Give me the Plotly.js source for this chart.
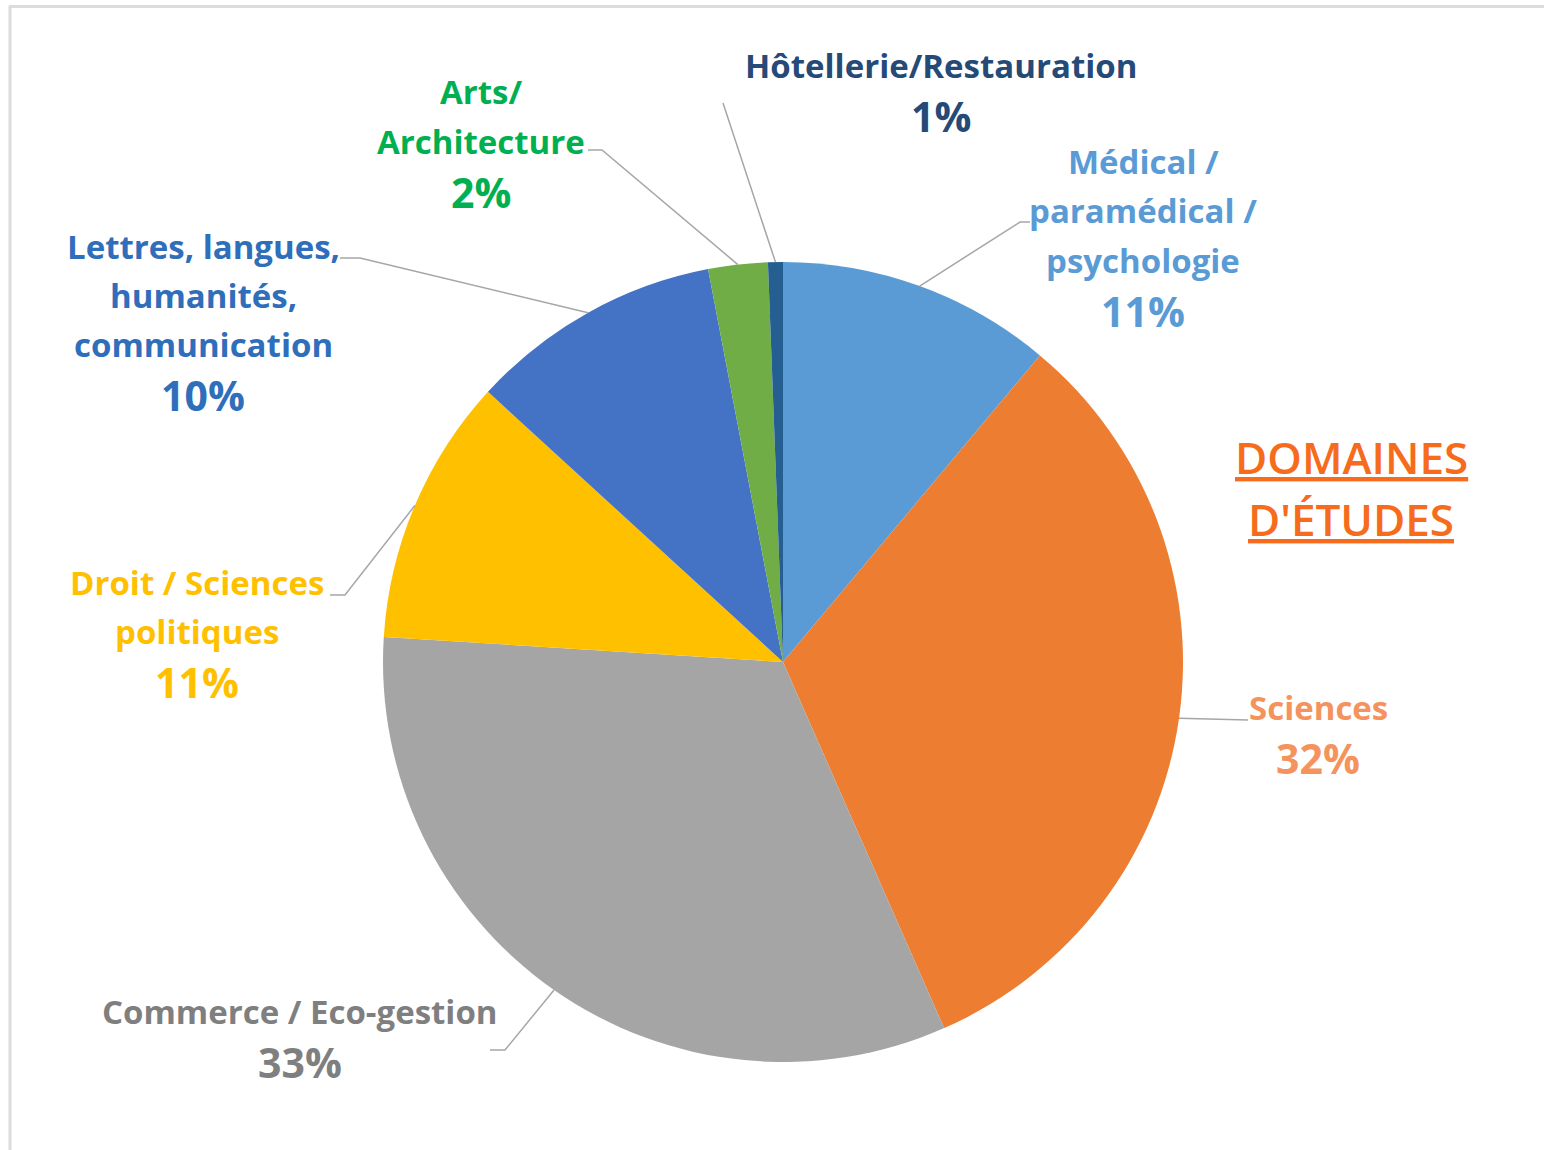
<!DOCTYPE html>
<html>
<head>
<meta charset="utf-8">
<script src="https://cdn.plot.ly/plotly-3.0.1.min.js"></script>
<style>html,body{margin:0;padding:0;background:#fff;}#chart{width:1544px;height:1150px;}</style>
</head>
<body>
<div id="chart"></div>
<script>
// ---- Data ----
const categories = ['Médical / paramédical / psychologie', 'Sciences', 'Commerce / Eco-gestion', 'Droit / Sciences politiques', 'Lettres, langues, humanités, communication', 'Arts/ Architecture', 'Hôtellerie/Restauration'];
const values = [11.1, 32.3, 32.6, 10.8, 10.2, 2.4, 0.6];
const labelLines = [['Médical /', 'paramédical /', 'psychologie'], ['Sciences'], ['Commerce / Eco-gestion'], ['Droit / Sciences', 'politiques'], ['Lettres, langues,', 'humanités,', 'communication'], ['Arts/', 'Architecture'], ['Hôtellerie/Restauration']];
const chartTitleLines = ['DOMAINES', "D'ÉTUDES"];

// ---- Styles / layout positions ----
const sliceColors = ['#5B9BD5', '#ED7D31', '#A5A5A5', '#FFC000', '#4472C4', '#70AD47', '#255E91'];
const textColors = ['#5B9BD5', '#F4935E', '#7F7F7F', '#FFC000', '#2F6EBA', '#00B050', '#264A78'];
const W = 1544, H = 1150;
const CX = 783, CY = 662, R = 400;
const labelPos = [[1143, 162], [1318, 707], [300, 1011], [197, 582], [203, 246], [481, 92], [941, 65]];
const leaderPts = [[[1020, 222], [1030, 222]], [[1248, 720]], [[505, 1050], [490, 1050]], [[345, 595], [330, 595]], [[360, 258], [340, 258]], [[602, 150], [588, 150]], [[723, 103]]];
const LINE_GAP = 49, PCT_GAP = 51;
const FONT = '"Open Sans", Lato, sans-serif';

const px = x => x / W;
const py = y => 1 - y / H;

const total = values.reduce((a, b) => a + b, 0);
const annotations = [];
const shapes = [];

let cum = 0;
values.forEach((v, i) => {
  const a = 2 * Math.PI * (cum + v / 2) / total;
  cum += v;
  const ax = CX + R * Math.sin(a), ay = CY - R * Math.cos(a);
  let path = 'M ' + px(ax) + ' ' + py(ay);
  leaderPts[i].forEach(p => { path += ' L ' + px(p[0]) + ' ' + py(p[1]); });
  shapes.push({type: 'path', xref: 'paper', yref: 'paper', path: path, line: {color: '#A6A6A6', width: 1.5}});
  const [lx, ly] = labelPos[i];
  labelLines[i].forEach((t, k) => {
    annotations.push({xref: 'paper', yref: 'paper', x: px(lx), y: py(ly + k * LINE_GAP), xanchor: 'center', yanchor: 'middle', showarrow: false,
      text: '<b>' + t + '</b>', font: {family: FONT, size: 33, color: textColors[i]}});
  });
  const pct = Math.round(v / total * 100) + '%';
  annotations.push({xref: 'paper', yref: 'paper', x: px(lx), y: py(ly + (labelLines[i].length - 1) * LINE_GAP + PCT_GAP), xanchor: 'center', yanchor: 'middle', showarrow: false,
    text: '<b>' + pct + '</b>', font: {family: FONT, size: 41, color: textColors[i]}});
});

chartTitleLines.forEach((t, k) => {
  annotations.push({xref: 'paper', yref: 'paper', x: px(1351), y: py(457 + k * 62), xanchor: 'center', yanchor: 'middle', showarrow: false,
    text: '<u>' + t + '</u>', font: {family: FONT, size: 44, weight: 600, color: '#F76B1C'}});
});

// frame lines (screenshot border)
shapes.push({type: 'line', xref: 'paper', yref: 'paper', x0: px(9), x1: 1, y0: py(6.5), y1: py(6.5), line: {color: '#DCDCDC', width: 3}});
shapes.push({type: 'line', xref: 'paper', yref: 'paper', x0: px(10), x1: px(10), y0: py(6), y1: 0, line: {color: '#DCDCDC', width: 3}});

const trace = {
  type: 'pie',
  labels: categories,
  values: values,
  sort: false,
  direction: 'clockwise',
  rotation: 0,
  textinfo: 'none',
  hoverinfo: 'label+percent',
  marker: {colors: sliceColors, line: {width: 0}},
  domain: {x: [(CX - R) / W, (CX + R) / W], y: [1 - (CY + R) / H, 1 - (CY - R) / H]},
  showlegend: false
};

const layout = {
  width: W, height: H,
  margin: {l: 0, r: 0, t: 0, b: 0},
  paper_bgcolor: '#ffffff',
  showlegend: false,
  annotations: annotations,
  shapes: shapes
};

Plotly.newPlot('chart', [trace], layout, {displayModeBar: false, staticPlot: true});
</script>
</body>
</html>
